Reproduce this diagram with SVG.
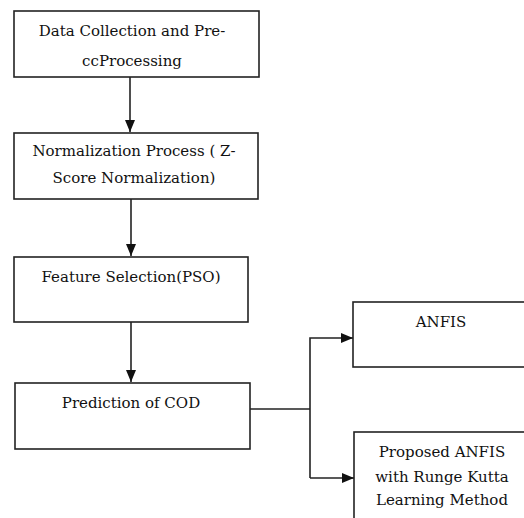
<svg xmlns="http://www.w3.org/2000/svg" width="524" height="518" viewBox="0 0 524 518">
<defs>
<marker id="ah" markerWidth="12" markerHeight="10" refX="12" refY="5" orient="auto" markerUnits="userSpaceOnUse">
<path d="M0,0 L12,5 L0,10 Z" fill="#111"/>
</marker>
<style>
.box{fill:#fff;stroke:#222;stroke-width:1.6}
.t{font-family:'DejaVu Serif',serif;font-size:15px;fill:#111;text-anchor:middle}
.c{fill:none;stroke:#222;stroke-width:1.6}
</style>
</defs>
<rect width="524" height="518" fill="#fff"/>
<g id="connectors">
<path class="c" d="M130,77 V132" marker-end="url(#ah)" stroke-width="2.2"/>
<path class="c" d="M131,199 V256" marker-end="url(#ah)"/>
<path class="c" d="M131,322 V382" marker-end="url(#ah)"/>
<path class="c" d="M250,409 H310"/>
<path class="c" d="M310,478 V338 H353" marker-end="url(#ah)"/>
<path class="c" d="M310,478 H354" marker-end="url(#ah)"/>
</g>
<g id="n1">
<rect class="box" x="14" y="11" width="245" height="66"/>
<text class="t" x="132" y="36">Data Collection and Pre-</text>
<text class="t" x="132" y="66">ccProcessing</text>
</g>
<g id="n2">
<rect class="box" x="14" y="133" width="244" height="66"/>
<text class="t" x="134" y="156">Normalization Process ( Z-</text>
<text class="t" x="134" y="183">Score Normalization)</text>
</g>
<g id="n3">
<rect class="box" x="14" y="257" width="234" height="65"/>
<text class="t" x="131" y="282">Feature Selection(PSO)</text>
</g>
<g id="n4">
<rect class="box" x="15" y="383" width="235" height="66"/>
<text class="t" x="131" y="408">Prediction of COD</text>
</g>
<g id="n5">
<rect class="box" x="353" y="302" width="180" height="65"/>
<text class="t" x="441" y="327">ANFIS</text>
</g>
<g id="n6">
<rect class="box" x="354" y="432" width="180" height="100"/>
<text class="t" x="442" y="457">Proposed ANFIS</text>
<text class="t" x="442" y="482">with Runge Kutta</text>
<text class="t" x="442" y="505">Learning Method</text>
</g>
</svg>
